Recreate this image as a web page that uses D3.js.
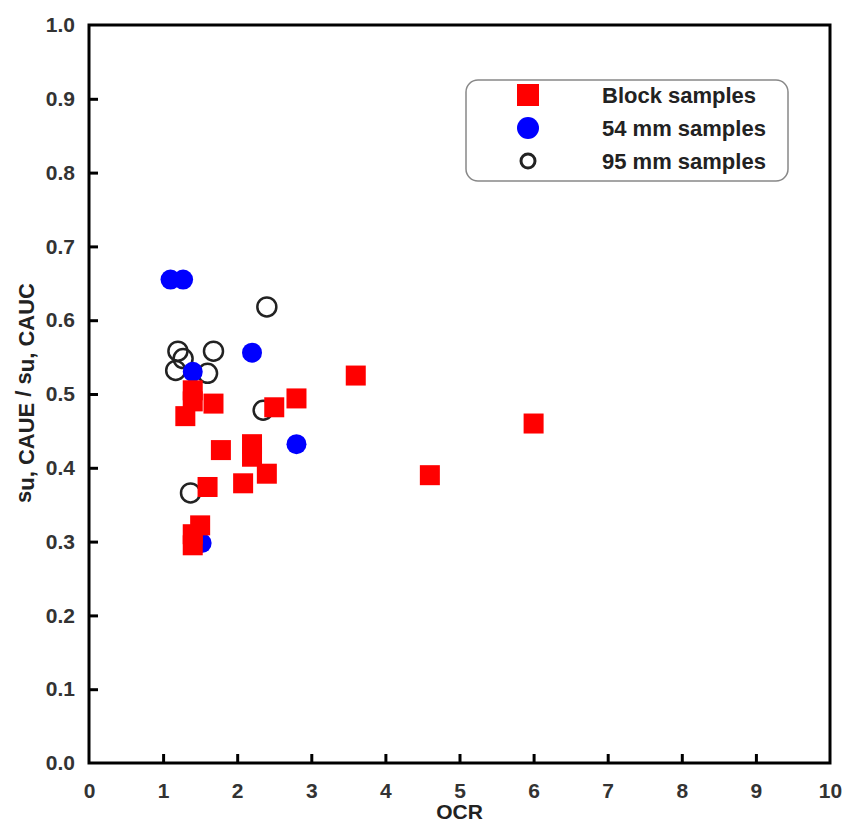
<!DOCTYPE html>
<html><head><meta charset="utf-8">
<script src="https://cdn.jsdelivr.net/npm/d3@7"></script>
<style>body{margin:0;background:#fff;} text{font-family:"Liberation Sans",Arial,sans-serif;font-weight:bold;}</style>
</head><body><svg id="c" width="844" height="826"></svg>
<script>
const xTicks = [0,1,2,3,4,5,6,7,8,9,10];
const yTicks = [0,0.1,0.2,0.3,0.4,0.5,0.6,0.7,0.8,0.9,1.0];
const blockOCR = [3.6,6.0,4.6,1.68,2.5,2.8,1.78,2.2,2.2,2.4,2.08,1.6,1.4,1.4,1.3,1.4,1.5,1.4];
const blockRatio = [0.525,0.46,0.39,0.487,0.482,0.494,0.424,0.432,0.415,0.392,0.379,0.374,0.505,0.49,0.47,0.31,0.322,0.295];
const mm54OCR = [1.1,1.27,1.4,2.2,2.8,1.52];
const mm54Ratio = [0.655,0.655,0.53,0.556,0.432,0.298];
const mm95OCR = [2.4,1.2,1.27,1.17,1.68,1.6,2.35,1.37];
const mm95Ratio = [0.618,0.558,0.548,0.532,0.558,0.528,0.478,0.366];
const legendLabels = ["Block samples","54 mm samples","95 mm samples"];

const svg = d3.select("#c");
const L=89,R=830,T=25,B=763;
const x = d3.scaleLinear().domain([0,10]).range([L,R]);
const y = d3.scaleLinear().domain([0,1]).range([B,T]);

svg.append("rect").attr("x",L).attr("y",T).attr("width",R-L).attr("height",B-T)
 .attr("fill","none").attr("stroke","#000").attr("stroke-width",3);

const xa = svg.append("g").attr("transform",`translate(0,${B})`)
 .call(d3.axisBottom(x).tickValues(xTicks).tickSize(-9).tickPadding(20).tickFormat(d3.format("d")));
const ya = svg.append("g").attr("transform",`translate(${L},0)`)
 .call(d3.axisLeft(y).tickValues(yTicks).tickSize(-9).tickPadding(14).tickFormat(d3.format(".1f")));
[xa,ya].forEach(a=>{
  a.select(".domain").remove();
  a.selectAll(".tick line").attr("stroke","#000").attr("stroke-width",3);
  a.selectAll(".tick text").attr("fill","#333").attr("font-size",21).attr("font-weight","bold")
   .attr("font-family","'Liberation Sans',Arial,sans-serif");
});
xa.selectAll(".tick").filter(d=>d===0||d===10).select("line").remove();
ya.selectAll(".tick").filter(d=>d===0||d===1).select("line").remove();

svg.append("text").attr("x",x(5)).attr("y",819).attr("text-anchor","middle")
 .attr("font-size",21).attr("fill","#222").text("OCR");
const yl = svg.append("text").attr("transform",`translate(31,393) rotate(-90)`)
 .attr("text-anchor","middle").attr("font-size",22).attr("fill","#222");
yl.append("tspan").text("s");
yl.append("tspan").attr("dy",3).text("u, CAUE");
yl.append("tspan").attr("dy",-3).text(" / s");
yl.append("tspan").attr("dy",3).text("u, CAUC");

const sq = 20, rr = 10;
svg.append("g").selectAll("circle").data(d3.range(mm95OCR.length)).join("circle")
 .attr("cx",i=>x(mm95OCR[i])).attr("cy",i=>y(mm95Ratio[i])).attr("r",9.5)
 .attr("fill","none").attr("stroke","#222").attr("stroke-width",2.5);
svg.append("g").selectAll("circle").data(d3.range(mm54OCR.length)).join("circle")
 .attr("cx",i=>x(mm54OCR[i])).attr("cy",i=>y(mm54Ratio[i])).attr("r",rr)
 .attr("fill","#0000ff");
svg.append("g").selectAll("rect").data(d3.range(blockOCR.length)).join("rect")
 .attr("x",i=>x(blockOCR[i])-sq/2).attr("y",i=>y(blockRatio[i])-sq/2)
 .attr("width",sq).attr("height",sq).attr("fill","#ff0000");

const lg = svg.append("g");
lg.append("rect").attr("x",466).attr("y",80).attr("width",322).attr("height",101)
 .attr("rx",12).attr("fill","#fff").attr("stroke","#888").attr("stroke-width",1.5);
const ly = [95,128,161];
lg.append("rect").attr("x",528-11).attr("y",ly[0]-11).attr("width",22).attr("height",22).attr("fill","#ff0000");
lg.append("circle").attr("cx",528).attr("cy",ly[1]).attr("r",11).attr("fill","#0000ff");
lg.append("circle").attr("cx",528).attr("cy",ly[2]).attr("r",7).attr("fill","none").attr("stroke","#222").attr("stroke-width",3);
lg.selectAll("text.l").data(legendLabels).join("text").attr("class","l")
 .attr("x",602).attr("y",(d,i)=>ly[i]+8).attr("font-size",22).attr("fill","#222").text(d=>d);
</script></body></html>
